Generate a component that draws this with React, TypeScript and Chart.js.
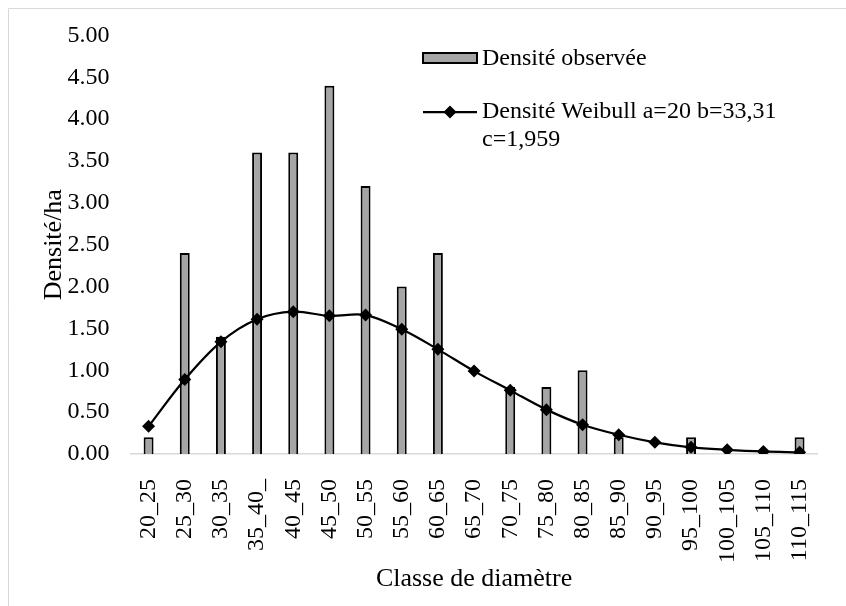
import React, { useEffect, useRef } from "react";
import { Chart, registerables } from "chart.js";

Chart.register(...registerables);

const categories = [
  "20_25", "25_30", "30_35", "35_40_", "40_45", "45_50", "50_55", "55_60", "60_65", "65_70",
  "70_75", "75_80", "80_85", "85_90", "90_95", "95_100", "100_105", "105_110", "110_115",
];
const observedDensity = [0.2, 2.4, 1.4, 3.6, 3.6, 4.4, 3.2, 2.0, 2.4, 0, 0.8, 0.8, 1.0, 0.2, 0, 0.2, 0, 0, 0.2];
const weibullDensity = [0.33, 0.89, 1.34, 1.61, 1.70, 1.65, 1.66, 1.49, 1.25, 0.99, 0.76, 0.53, 0.35, 0.23, 0.14, 0.08, 0.05, 0.03, 0.02];
const legendObserved = "Densité observée";
const legendWeibull = ["Densité Weibull a=20 b=33,31", "c=1,959"];
const yTitle = "Densité/ha";
const xTitle = "Classe de diamètre";
const yMin = 0;
const yMax = 5;
const yStep = 0.5;

const FONT = "'Liberation Serif', 'Times New Roman', serif";
const BAR_FILL = "#a5a5a5";
const FRAME = "#d9d9d9";

const framePlugin = {
  id: "frame",
  beforeDraw(chart: any) {
    const ctx = chart.ctx;
    ctx.save();
    ctx.fillStyle = "#fff";
    ctx.fillRect(0, 0, chart.width, chart.height);
    ctx.strokeStyle = FRAME;
    ctx.lineWidth = 1;
    ctx.beginPath();
    ctx.moveTo(0.5, chart.height);
    ctx.lineTo(0.5, 0.5);
    ctx.lineTo(chart.width, 0.5);
    ctx.stroke();
    ctx.restore();
  },
};

const legendPlugin = {
  id: "customLegend",
  afterDraw(chart: any) {
    const ctx = chart.ctx;
    ctx.save();
    const bx = 415, by = 45;
    ctx.fillStyle = BAR_FILL;
    ctx.fillRect(bx, by, 54, 10);
    ctx.strokeStyle = "#000";
    ctx.lineWidth = 2;
    ctx.strokeRect(bx, by, 54, 10);
    ctx.font = `24px ${FONT}`;
    ctx.fillStyle = "#000";
    ctx.textBaseline = "middle";
    ctx.textAlign = "left";
    ctx.fillText(legendObserved, 474, 51);
    const ly = 104;
    ctx.beginPath();
    ctx.moveTo(415, ly);
    ctx.lineTo(469, ly);
    ctx.lineWidth = 2.25;
    ctx.stroke();
    ctx.beginPath();
    ctx.moveTo(442, ly - 6.5);
    ctx.lineTo(448.5, ly);
    ctx.lineTo(442, ly + 6.5);
    ctx.lineTo(435.5, ly);
    ctx.closePath();
    ctx.fill();
    ctx.fillText(legendWeibull[0], 474, ly);
    ctx.fillText(legendWeibull[1], 474, ly + 28);
    ctx.restore();
  },
};

export default function App() {
  const canvasRef = useRef<HTMLCanvasElement | null>(null);

  useEffect(() => {
    document.documentElement.style.overflow = "hidden";
    document.body.style.overflow = "hidden";
    const canvas = canvasRef.current;
    if (!canvas) return;
    const chart = new Chart(canvas, {
      type: "bar",
      data: {
        labels: categories,
        datasets: [
          {
            type: "line",
            label: legendWeibull.join(" "),
            data: weibullDensity,
            borderColor: "#000",
            backgroundColor: "#000",
            borderWidth: 2.25,
            tension: 0.35,
            pointStyle: "rectRot",
            pointRadius: 6.5,
            pointBackgroundColor: "#000",
            pointBorderColor: "#000",
            pointBorderWidth: 0,
            order: 0,
          } as any,
          {
            type: "bar",
            label: legendObserved,
            data: observedDensity.map((v) => (v === 0 ? null : v)),
            backgroundColor: BAR_FILL,
            borderColor: "#000",
            borderWidth: 2,
            borderSkipped: "bottom",
            barPercentage: 0.55,
            categoryPercentage: 0.5,
            order: 1,
          } as any,
        ],
      },
      options: {
        responsive: false,
        animation: false,
        devicePixelRatio: 1,
        layout: { padding: { left: 1, right: 25, top: 25, bottom: 0 } },
        plugins: {
          legend: { display: false },
          tooltip: { enabled: false },
        },
        scales: {
          x: {
            grid: { display: false },
            border: { display: true, color: FRAME, width: 1.5 },
            ticks: {
              color: "#000",
              font: { family: FONT, size: 24 },
              minRotation: 90,
              maxRotation: 90,
              autoSkip: false,
              padding: 17,
            },
            title: {
              display: true,
              text: xTitle,
              color: "#000",
              font: { family: FONT, size: 26 },
              padding: { top: 0, bottom: 11 },
            },
            afterFit(scale: any) {
              scale.height = 152;
            },
          },
          y: {
            min: yMin,
            max: yMax,
            grid: { display: false },
            border: { display: false },
            ticks: {
              stepSize: yStep,
              color: "#000",
              font: { family: FONT, size: 24 },
              padding: 13,
              callback: (v: any) => Number(v).toFixed(2),
            },
            title: {
              display: true,
              text: yTitle,
              color: "#000",
              font: { family: FONT, size: 26 },
              padding: { top: 30, bottom: 0 },
            },
            afterFit(scale: any) {
              scale.width = 121.5;
            },
          },
        },
      },
      plugins: [framePlugin, legendPlugin],
    });
    return () => chart.destroy();
  }, []);

  return (
    <canvas
      ref={canvasRef}
      width={838}
      height={598}
      style={{ display: "block", position: "fixed", left: 8, top: 8 }}
    />
  );
}
